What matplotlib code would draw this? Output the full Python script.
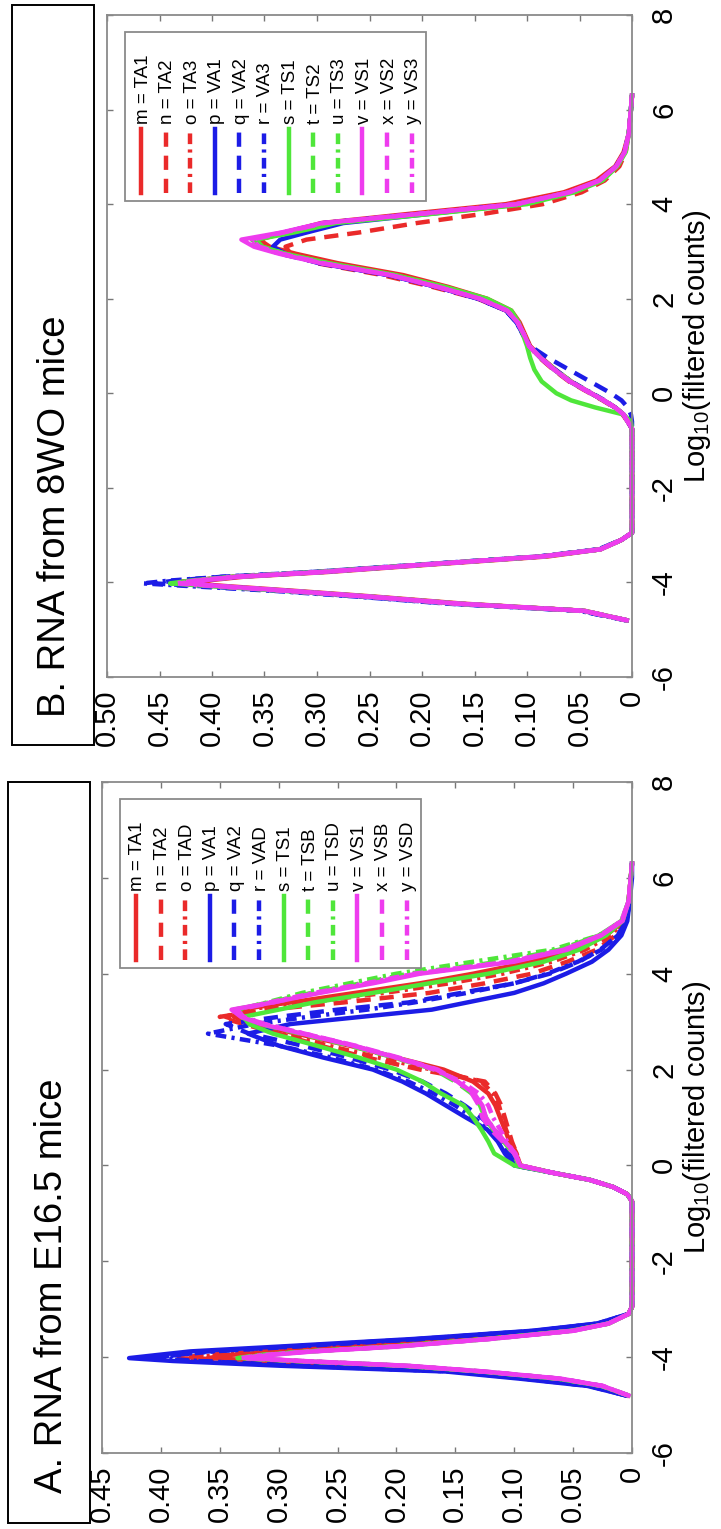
import matplotlib.pyplot as plt
from matplotlib.lines import Line2D
from matplotlib.patches import Rectangle

plt.rcParams['font.family'] = ['Liberation Sans', 'DejaVu Sans']
plt.rcParams['mathtext.default'] = 'regular'

# log10(filtered counts) at which every density is read
LOG_COUNTS = [-4.8, -4.6, -4.45, -4.3, -4.18, -4.08, -4.02, -3.96, -3.88, -3.78, -3.62, -3.45, -3.3, -3.1, -2.95,
              -0.75, -0.6, -0.45, -0.3, -0.15, 0.0, 0.25, 0.5, 0.75, 1.0, 1.25, 1.5, 1.75, 2.0, 2.25, 2.5, 2.75,
              2.95, 3.1, 3.25, 3.4, 3.6, 3.8, 4.0, 4.25, 4.5, 4.8, 5.1, 5.5, 6.0, 6.3]

# ---- A. E16.5 samples ----
A_LABELS = ["m = TA1", "n = TA2", "o = TAD", "p = VA1", "q = VA2", "r = VAD",
            "s = TS1", "t = TSB", "u = TSD", "v = VS1", "x = VSB", "y = VSD"]
A_m = [0.004, 0.03, 0.075, 0.14, 0.22, 0.31, 0.36, 0.345, 0.3, 0.235, 0.14, 0.06, 0.022, 0.003, 0.0,
       0.0, 0.004, 0.016, 0.036, 0.068, 0.095, 0.099, 0.104, 0.108, 0.112, 0.116, 0.122, 0.135, 0.16, 0.2, 0.24, 0.285,
       0.32, 0.338, 0.335, 0.29, 0.235, 0.18, 0.135, 0.085, 0.048, 0.022, 0.007, 0.003, 0.001, 0.0]
A_n = [0.004, 0.032, 0.08, 0.145, 0.235, 0.33, 0.385, 0.365, 0.315, 0.245, 0.15, 0.065, 0.025, 0.003, 0.0,
       0.0, 0.004, 0.016, 0.036, 0.068, 0.095, 0.098, 0.102, 0.105, 0.108, 0.111, 0.116, 0.125, 0.18, 0.225, 0.265, 0.3,
       0.33, 0.35, 0.31, 0.245, 0.172, 0.125, 0.085, 0.055, 0.03, 0.014, 0.006, 0.002, 0.001, 0.0]
A_o = [0.004, 0.031, 0.078, 0.142, 0.228, 0.32, 0.375, 0.355, 0.308, 0.24, 0.145, 0.062, 0.024, 0.003, 0.0,
       0.0, 0.004, 0.016, 0.036, 0.068, 0.095, 0.098, 0.103, 0.107, 0.11, 0.113, 0.118, 0.128, 0.17, 0.215, 0.258, 0.295,
       0.325, 0.345, 0.33, 0.275, 0.21, 0.155, 0.11, 0.068, 0.04, 0.018, 0.007, 0.003, 0.001, 0.0]
A_p = [0.005, 0.038, 0.095, 0.158, 0.298, 0.39, 0.427, 0.405, 0.375, 0.3, 0.185, 0.085, 0.03, 0.003, 0.0,
       0.0, 0.004, 0.016, 0.036, 0.068, 0.1, 0.108, 0.114, 0.123, 0.141, 0.158, 0.175, 0.195, 0.22, 0.262, 0.3, 0.326,
       0.29, 0.23, 0.17, 0.14, 0.1, 0.075, 0.056, 0.034, 0.02, 0.009, 0.004, 0.002, 0.0, 0.0]
A_q = [0.005, 0.036, 0.09, 0.15, 0.28, 0.37, 0.41, 0.39, 0.36, 0.29, 0.18, 0.082, 0.029, 0.003, 0.0,
       0.0, 0.004, 0.016, 0.036, 0.068, 0.098, 0.104, 0.11, 0.117, 0.128, 0.142, 0.158, 0.178, 0.205, 0.24, 0.28, 0.325,
       0.345, 0.3, 0.25, 0.19, 0.145, 0.1, 0.07, 0.045, 0.027, 0.012, 0.005, 0.002, 0.001, 0.0]
A_r = [0.005, 0.036, 0.09, 0.152, 0.282, 0.368, 0.405, 0.388, 0.356, 0.286, 0.178, 0.082, 0.029, 0.003, 0.0,
       0.0, 0.004, 0.016, 0.036, 0.068, 0.1, 0.106, 0.112, 0.12, 0.135, 0.15, 0.168, 0.19, 0.218, 0.255, 0.3, 0.36,
       0.32, 0.275, 0.225, 0.185, 0.14, 0.1, 0.072, 0.046, 0.026, 0.012, 0.005, 0.002, 0.001, 0.0]
A_s = [0.003, 0.026, 0.063, 0.128, 0.195, 0.285, 0.33, 0.315, 0.275, 0.205, 0.123, 0.052, 0.02, 0.003, 0.0,
       0.0, 0.004, 0.016, 0.036, 0.068, 0.1, 0.117, 0.122, 0.128, 0.135, 0.143, 0.162, 0.178, 0.2, 0.232, 0.268, 0.305,
       0.325, 0.33, 0.3, 0.27, 0.22, 0.172, 0.122, 0.075, 0.045, 0.022, 0.008, 0.003, 0.001, 0.0]
A_t = [0.003, 0.026, 0.062, 0.127, 0.193, 0.283, 0.335, 0.318, 0.275, 0.204, 0.122, 0.051, 0.02, 0.003, 0.0,
       0.0, 0.004, 0.016, 0.036, 0.068, 0.096, 0.101, 0.109, 0.118, 0.125, 0.129, 0.136, 0.15, 0.168, 0.202, 0.24, 0.282,
       0.316, 0.333, 0.338, 0.308, 0.272, 0.23, 0.19, 0.112, 0.062, 0.028, 0.009, 0.003, 0.001, 0.0]
A_u = [0.003, 0.026, 0.062, 0.127, 0.193, 0.283, 0.333, 0.316, 0.274, 0.203, 0.121, 0.051, 0.02, 0.003, 0.0,
       0.0, 0.004, 0.016, 0.036, 0.068, 0.095, 0.1, 0.108, 0.117, 0.124, 0.128, 0.135, 0.148, 0.166, 0.2, 0.238, 0.28,
       0.313, 0.33, 0.335, 0.31, 0.28, 0.24, 0.2, 0.135, 0.068, 0.028, 0.009, 0.003, 0.001, 0.0]
A_v = [0.003, 0.025, 0.06, 0.125, 0.19, 0.28, 0.325, 0.31, 0.27, 0.2, 0.12, 0.05, 0.02, 0.003, 0.0,
       0.0, 0.004, 0.016, 0.036, 0.068, 0.095, 0.099, 0.108, 0.117, 0.124, 0.127, 0.134, 0.148, 0.166, 0.2, 0.237, 0.28,
       0.315, 0.332, 0.34, 0.305, 0.265, 0.22, 0.18, 0.1, 0.055, 0.026, 0.008, 0.003, 0.001, 0.0]
A_x = [0.003, 0.025, 0.061, 0.126, 0.192, 0.282, 0.33, 0.313, 0.272, 0.202, 0.121, 0.05, 0.02, 0.003, 0.0,
       0.0, 0.004, 0.016, 0.036, 0.068, 0.095, 0.1, 0.11, 0.12, 0.127, 0.13, 0.136, 0.148, 0.165, 0.198, 0.235, 0.278,
       0.312, 0.33, 0.335, 0.305, 0.268, 0.224, 0.183, 0.104, 0.058, 0.027, 0.009, 0.003, 0.001, 0.0]
A_y = [0.003, 0.025, 0.061, 0.126, 0.192, 0.282, 0.332, 0.315, 0.273, 0.203, 0.121, 0.05, 0.02, 0.003, 0.0,
       0.0, 0.004, 0.016, 0.036, 0.068, 0.095, 0.1, 0.106, 0.112, 0.118, 0.122, 0.13, 0.145, 0.168, 0.2, 0.236, 0.278,
       0.312, 0.33, 0.337, 0.308, 0.27, 0.226, 0.185, 0.105, 0.058, 0.027, 0.009, 0.003, 0.001, 0.0]

# ---- B. 8WO samples ----
B_LABELS = ["m = TA1", "n = TA2", "o = TA3", "p = VA1", "q = VA2", "r = VA3",
            "s = TS1", "t = TS2", "u = TS3", "v = VS1", "x = VS2", "y = VS3"]
B_m = [0.005, 0.045, 0.16, 0.245, 0.32, 0.385, 0.42, 0.405, 0.37, 0.29, 0.19, 0.08, 0.03, 0.01, 0.0,
       0.0, 0.004, 0.008, 0.016, 0.027, 0.039, 0.058, 0.073, 0.086, 0.097, 0.102, 0.107, 0.115, 0.138, 0.175, 0.218, 0.28,
       0.32, 0.345, 0.355, 0.33, 0.296, 0.21, 0.12, 0.065, 0.034, 0.016, 0.008, 0.003, 0.001, 0.0]
B_n = [0.005, 0.046, 0.165, 0.25, 0.33, 0.4, 0.44, 0.42, 0.38, 0.3, 0.195, 0.085, 0.03, 0.01, 0.0,
       0.0, 0.004, 0.009, 0.017, 0.028, 0.04, 0.06, 0.075, 0.088, 0.098, 0.103, 0.109, 0.12, 0.147, 0.19, 0.238, 0.3,
       0.325, 0.33, 0.31, 0.26, 0.205, 0.14, 0.085, 0.048, 0.026, 0.012, 0.006, 0.003, 0.001, 0.0]
B_o = [0.005, 0.046, 0.165, 0.25, 0.328, 0.398, 0.44, 0.42, 0.378, 0.298, 0.195, 0.085, 0.03, 0.01, 0.0,
       0.0, 0.004, 0.008, 0.016, 0.027, 0.039, 0.059, 0.074, 0.087, 0.098, 0.103, 0.109, 0.119, 0.145, 0.184, 0.228, 0.292,
       0.33, 0.352, 0.36, 0.33, 0.292, 0.198, 0.108, 0.058, 0.03, 0.015, 0.007, 0.003, 0.001, 0.0]
B_p = [0.005, 0.047, 0.168, 0.252, 0.328, 0.395, 0.43, 0.412, 0.376, 0.296, 0.196, 0.086, 0.031, 0.01, 0.0,
       0.0, 0.004, 0.008, 0.016, 0.027, 0.039, 0.059, 0.074, 0.087, 0.098, 0.104, 0.11, 0.12, 0.146, 0.186, 0.232, 0.298,
       0.33, 0.342, 0.335, 0.31, 0.275, 0.19, 0.105, 0.057, 0.03, 0.015, 0.007, 0.003, 0.001, 0.0]
B_q = [0.006, 0.05, 0.172, 0.258, 0.335, 0.41, 0.455, 0.435, 0.39, 0.305, 0.2, 0.088, 0.032, 0.01, 0.0,
       0.0, 0.0, 0.001, 0.004, 0.01, 0.02, 0.04, 0.06, 0.08, 0.097, 0.104, 0.11, 0.12, 0.147, 0.186, 0.232, 0.296,
       0.335, 0.355, 0.36, 0.33, 0.292, 0.198, 0.108, 0.058, 0.03, 0.015, 0.007, 0.003, 0.001, 0.0]
B_r = [0.006, 0.05, 0.175, 0.262, 0.34, 0.42, 0.466, 0.44, 0.39, 0.305, 0.2, 0.088, 0.032, 0.01, 0.0,
       0.0, 0.004, 0.008, 0.016, 0.026, 0.038, 0.058, 0.073, 0.087, 0.098, 0.104, 0.11, 0.12, 0.146, 0.185, 0.23, 0.294,
       0.332, 0.353, 0.36, 0.332, 0.294, 0.2, 0.11, 0.059, 0.031, 0.015, 0.007, 0.003, 0.001, 0.0]
B_s = [0.005, 0.046, 0.166, 0.25, 0.33, 0.4, 0.44, 0.42, 0.38, 0.3, 0.196, 0.085, 0.03, 0.01, 0.0,
       0.0, 0.001, 0.008, 0.035, 0.058, 0.072, 0.086, 0.093, 0.097, 0.1, 0.104, 0.108, 0.115, 0.138, 0.178, 0.225, 0.288,
       0.33, 0.352, 0.358, 0.322, 0.282, 0.188, 0.1, 0.055, 0.028, 0.014, 0.006, 0.003, 0.001, 0.0]
B_t = [0.005, 0.046, 0.165, 0.25, 0.326, 0.394, 0.43, 0.414, 0.376, 0.296, 0.195, 0.085, 0.03, 0.01, 0.0,
       0.0, 0.004, 0.008, 0.016, 0.027, 0.039, 0.058, 0.073, 0.087, 0.098, 0.103, 0.109, 0.118, 0.143, 0.182, 0.227, 0.29,
       0.33, 0.352, 0.36, 0.328, 0.288, 0.195, 0.106, 0.057, 0.029, 0.014, 0.007, 0.003, 0.001, 0.0]
B_u = [0.005, 0.046, 0.165, 0.25, 0.326, 0.394, 0.43, 0.414, 0.376, 0.296, 0.195, 0.085, 0.03, 0.01, 0.0,
       0.0, 0.004, 0.008, 0.016, 0.027, 0.039, 0.059, 0.074, 0.087, 0.098, 0.103, 0.109, 0.119, 0.144, 0.183, 0.228, 0.292,
       0.332, 0.354, 0.362, 0.33, 0.29, 0.196, 0.107, 0.058, 0.03, 0.015, 0.007, 0.003, 0.001, 0.0]
B_v = [0.005, 0.046, 0.165, 0.25, 0.325, 0.39, 0.425, 0.41, 0.375, 0.295, 0.195, 0.085, 0.03, 0.01, 0.0,
       0.0, 0.004, 0.008, 0.016, 0.027, 0.039, 0.059, 0.074, 0.087, 0.098, 0.103, 0.109, 0.119, 0.145, 0.185, 0.23, 0.296,
       0.336, 0.36, 0.372, 0.334, 0.295, 0.2, 0.11, 0.06, 0.031, 0.015, 0.007, 0.003, 0.001, 0.0]
B_x = [0.005, 0.046, 0.165, 0.25, 0.326, 0.394, 0.43, 0.414, 0.376, 0.296, 0.195, 0.085, 0.03, 0.01, 0.0,
       0.0, 0.004, 0.008, 0.016, 0.027, 0.039, 0.059, 0.074, 0.087, 0.098, 0.103, 0.109, 0.119, 0.145, 0.185, 0.23, 0.294,
       0.333, 0.355, 0.362, 0.332, 0.293, 0.2, 0.11, 0.06, 0.031, 0.015, 0.007, 0.003, 0.001, 0.0]
B_y = [0.005, 0.046, 0.166, 0.252, 0.328, 0.396, 0.435, 0.416, 0.378, 0.297, 0.196, 0.086, 0.03, 0.01, 0.0,
       0.0, 0.004, 0.008, 0.016, 0.027, 0.039, 0.059, 0.074, 0.087, 0.098, 0.103, 0.109, 0.119, 0.145, 0.185, 0.23, 0.295,
       0.334, 0.357, 0.365, 0.333, 0.294, 0.2, 0.11, 0.06, 0.031, 0.015, 0.007, 0.003, 0.001, 0.0]

A_SERIES = [A_m, A_n, A_o, A_p, A_q, A_r, A_s, A_t, A_u, A_v, A_x, A_y]
B_SERIES = [B_m, B_n, B_o, B_p, B_q, B_r, B_s, B_t, B_u, B_v, B_x, B_y]

RED, BLUE, GREEN, MAGENTA = "#ea2a2a", "#1c1ce6", "#4fe63a", "#ee3cee"
COLORS = [RED] * 3 + [BLUE] * 3 + [GREEN] * 3 + [MAGENTA] * 3
SOLID, DASHED, DASHDOT = "-", (0, (3.2, 2.0)), (0, (2.4, 1.2, 0.7, 1.2))
STYLES = [SOLID, DASHED, DASHDOT] * 4
LW = 3.2

W, H = 721, 1529
fig = plt.figure(figsize=(W / 100, H / 100), dpi=100)


def fx(px):
    return px / W


def fy(py):
    return 1 - py / H


def panel(left, top, right, bottom, dmax, series, labels, title, box, title_pos):
    ax = fig.add_axes([fx(left), fy(bottom), (right - left) / W, (bottom - top) / H])
    for dens, col, ls in zip(series, COLORS, STYLES):
        ax.plot(dens, LOG_COUNTS, color=col, lw=LW, linestyle=ls, clip_on=False,
                solid_joinstyle="round", dash_joinstyle="round")

    # density runs right-to-left, log counts bottom-to-top
    ax.set_xlim(dmax, 0)
    ax.set_ylim(-6, 8)
    xt = [i * 0.05 for i in range(int(round(dmax / 0.05)) + 1)]
    ax.set_xticks(xt)
    ax.set_xticklabels(["0"] + ["%.2f" % v for v in xt[1:]], rotation=90, ha="center", va="top", fontsize=21)
    yt = list(range(-6, 9, 2))
    ax.set_yticks(yt)
    ax.yaxis.tick_right()
    ax.set_yticklabels([str(v) for v in yt], rotation=90, ha="left", va="center", fontsize=21)
    ax.tick_params(direction="in", length=4, width=1, color="#777777",
                   top=True, bottom=True, left=True, right=True)
    ax.tick_params(axis="x", pad=9)
    ax.tick_params(axis="y", pad=13)
    for sp in ax.spines.values():
        sp.set_color("#8a8a8a")
        sp.set_linewidth(1.3)
    ax.yaxis.set_label_position("right")
    ax.set_ylabel(r"Log$_{10}$(filtered counts)", fontsize=21, rotation=90, labelpad=2)

    # legend, laid out sideways like the rest of the panel
    fig.add_artist(Rectangle((fx(left + 18), fy(top + 186)), 301 / W, 169 / H, transform=fig.transFigure,
                             facecolor="white", edgecolor="#8a8a8a", lw=1.3))
    for i, (lab, col, ls) in enumerate(zip(labels, COLORS, STYLES)):
        cx = left + 34 + i * 24.6
        fig.add_artist(Line2D([fx(cx), fx(cx)], [fy(top + 178), fy(top + 114)], transform=fig.transFigure,
                              color=col, lw=LW, linestyle=ls))
        fig.text(fx(cx + 2), fy(top + 109), lab, rotation=90, ha="center", va="bottom", fontsize=13.5)

    # title box
    bx0, by0, bx1, by1 = box
    fig.add_artist(Rectangle((fx(bx0), fy(by1)), (bx1 - bx0) / W, (by1 - by0) / H, transform=fig.transFigure,
                             fill=False, edgecolor="black", lw=1.4))
    fig.text(fx(title_pos[0]), fy(title_pos[1]), title, rotation=90, ha="center", va="bottom", fontsize=27.5)
    return ax


panel(107, 15, 632, 677, 0.5, B_SERIES, B_LABELS, "B. RNA from 8WO mice", (12, 5, 94, 745), (55, 717))
panel(102, 782, 632, 1453, 0.45, A_SERIES, A_LABELS, "A. RNA from E16.5 mice", (8, 782, 90, 1523), (52, 1493))

fig.savefig("out.png", dpi=100)
